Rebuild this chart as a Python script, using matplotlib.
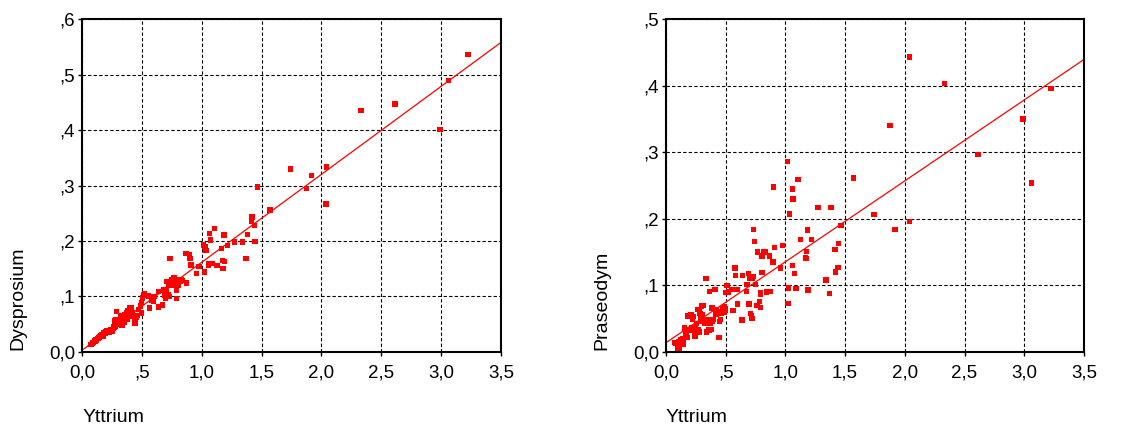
import matplotlib.pyplot as plt
import numpy as np
from matplotlib.ticker import FuncFormatter

# Yttrium, Dysprosium, Praseodym per sample
yttrium = [
    0.075, 0.085, 0.095, 0.103, 0.110, 0.115, 0.121, 0.130, 0.136, 0.141,
    0.146, 0.154, 0.162, 0.167, 0.179, 0.185, 0.192, 0.200, 0.205, 0.210,
    0.218, 0.222, 0.231, 0.236, 0.244, 0.249, 0.256, 0.262, 0.264, 0.269,
    0.275, 0.282, 0.285, 0.290, 0.295, 0.300, 0.308, 0.315, 0.321, 0.325,
    0.333, 0.335, 0.341, 0.346, 0.350, 0.355, 0.359, 0.365, 0.372, 0.375,
    0.378, 0.385, 0.390, 0.397, 0.410, 0.418, 0.423, 0.436, 0.444, 0.449,
    0.455, 0.462, 0.474, 0.487, 0.490, 0.495,
    0.498, 0.504, 0.512, 0.521, 0.554, 0.562, 0.578, 0.582, 0.596, 0.601,
    0.638, 0.640, 0.674, 0.679, 0.693, 0.700, 0.695, 0.707, 0.715, 0.721,
    0.721, 0.735, 0.741, 0.730, 0.749, 0.763, 0.768, 0.782, 0.791, 0.791,
    0.791, 0.805, 0.805, 0.818, 0.832, 0.841,
    0.871, 0.869, 0.896, 0.902, 0.910, 0.958, 0.977, 1.022, 1.016, 1.027,
    1.036, 1.058, 1.061, 1.064, 1.075, 1.089, 1.105, 1.128, 1.172, 1.167,
    1.178, 1.189, 1.186, 1.217, 1.272, 1.339, 1.370, 1.381, 1.414, 1.420,
    1.439, 1.445, 1.464, 1.570, 1.743, 1.876, 1.918, 2.038, 2.041, 2.330,
    2.614, 2.990, 3.060, 3.224,
]
dysprosium = [
    0.013, 0.016, 0.017, 0.020, 0.019, 0.023, 0.021, 0.024, 0.025, 0.026,
    0.028, 0.029, 0.031, 0.032, 0.029, 0.034, 0.033, 0.036, 0.035, 0.038,
    0.038, 0.037, 0.035, 0.040, 0.041, 0.039, 0.038, 0.046, 0.043, 0.044,
    0.056, 0.047, 0.059, 0.073, 0.050, 0.055, 0.053, 0.059, 0.065, 0.050,
    0.056, 0.048, 0.057, 0.062, 0.053, 0.066, 0.068, 0.060, 0.071, 0.062,
    0.058, 0.074, 0.065, 0.080, 0.079, 0.070, 0.065, 0.056, 0.051, 0.060,
    0.062, 0.066, 0.077, 0.083, 0.082, 0.089,
    0.070, 0.097, 0.103, 0.105, 0.101, 0.079, 0.094, 0.093, 0.091, 0.100,
    0.081, 0.109, 0.085, 0.112, 0.103, 0.110, 0.097, 0.127, 0.100, 0.120,
    0.103, 0.168, 0.126, 0.100, 0.130, 0.120, 0.133, 0.123, 0.096, 0.112,
    0.130, 0.130, 0.121, 0.127, 0.131, 0.129,
    0.124, 0.178, 0.175, 0.169, 0.157, 0.141, 0.154, 0.144, 0.193, 0.190,
    0.183, 0.157, 0.160, 0.214, 0.202, 0.159, 0.223, 0.156, 0.165, 0.186,
    0.151, 0.163, 0.211, 0.192, 0.198, 0.198, 0.169, 0.212, 0.235, 0.243,
    0.228, 0.199, 0.297, 0.256, 0.330, 0.295, 0.318, 0.267, 0.333, 0.435,
    0.447, 0.401, 0.489, 0.536,
]
praseodym = [
    0.014, 0.013, 0.005, 0.010, 0.015, 0.006, 0.018, 0.016, 0.020, 0.012,
    0.015, 0.036, 0.028, 0.026, 0.022, 0.054, 0.033, 0.055, 0.033, 0.056,
    0.036, 0.049, 0.053, 0.033, 0.024, 0.036, 0.043, 0.030, 0.064, 0.034,
    0.030, 0.063, 0.058, 0.052, 0.069, 0.046, 0.056, 0.070, 0.043, 0.048,
    0.048, 0.110, 0.030, 0.049, 0.043, 0.046, 0.033, 0.091, 0.043, 0.048,
    0.034, 0.066, 0.046, 0.049, 0.094, 0.057, 0.063, 0.061, 0.022, 0.046,
    0.049, 0.058, 0.065, 0.060, 0.068, 0.062,
    0.065, 0.089, 0.100, 0.090, 0.094, 0.062, 0.126, 0.115, 0.094, 0.072,
    0.048, 0.115, 0.091, 0.101, 0.118, 0.110, 0.072, 0.058, 0.055, 0.050,
    0.110, 0.184, 0.166, 0.113, 0.101, 0.070, 0.150, 0.076, 0.087, 0.067,
    0.089, 0.144, 0.119, 0.150, 0.150, 0.090,
    0.091, 0.144, 0.135, 0.248, 0.157, 0.126, 0.160, 0.073, 0.286, 0.096,
    0.207, 0.130, 0.245, 0.230, 0.118, 0.095, 0.259, 0.169, 0.140, 0.142,
    0.151, 0.093, 0.183, 0.169, 0.217, 0.108, 0.088, 0.217, 0.154, 0.120,
    0.127, 0.163, 0.190, 0.261, 0.206, 0.340, 0.184, 0.196, 0.443, 0.403,
    0.297, 0.350, 0.254, 0.396,
]

plt.rcParams['font.family'] = ['Liberation Sans', 'DejaVu Sans']
RED = '#ff0000'


def komma(v, pos):
    s = f"{v:.1f}".replace('.', ',')
    if 0 < v < 1:
        s = s[1:]
    return s


def streudiagramm(ax, x, y, ymax, ylabel):
    x = np.array(x)
    y = np.array(y)
    ax.scatter(x, y, s=15, marker='s', color=RED, edgecolors='none', zorder=3)
    b, a = np.polyfit(x, y, 1)
    xs = np.array([0.0, 3.5])
    ax.plot(xs, a + b * xs, color=RED, lw=0.9, zorder=2)
    ax.set_xlim(0, 3.5)
    ax.set_ylim(0, ymax)
    ax.set_xticks(np.arange(0, 3.51, 0.5))
    ax.set_yticks(np.arange(0, ymax + 0.001, 0.1))
    ax.xaxis.set_major_formatter(FuncFormatter(komma))
    ax.yaxis.set_major_formatter(FuncFormatter(komma))
    ax.grid(True, color='black', lw=0.8, linestyle=(0, (3, 2)))
    ax.set_axisbelow(True)
    for sp in ax.spines.values():
        sp.set_linewidth(1.5)
    ax.tick_params(labelsize=13.5, length=3, width=1)
    ax.tick_params(axis='x', pad=6)
    ax.tick_params(axis='y', pad=2)
    ax.text(-0.153, 0.006, ylabel, rotation=90, ha='center', va='bottom',
            fontsize=14, transform=ax.transAxes)
    ax.text(0.0, -0.198, 'Yttrium', ha='left', va='center',
            fontsize=14, transform=ax.transAxes)


fig = plt.figure(figsize=(11.41, 4.30), dpi=100)
ax1 = fig.add_axes([0.0719, 0.1814, 0.3672, 0.7744])
ax2 = fig.add_axes([0.5837, 0.1814, 0.3663, 0.7744])

streudiagramm(ax1, yttrium, dysprosium, 0.6, 'Dysprosium')
streudiagramm(ax2, yttrium, praseodym, 0.5, 'Praseodym')

fig.savefig('out.png', dpi=100)
